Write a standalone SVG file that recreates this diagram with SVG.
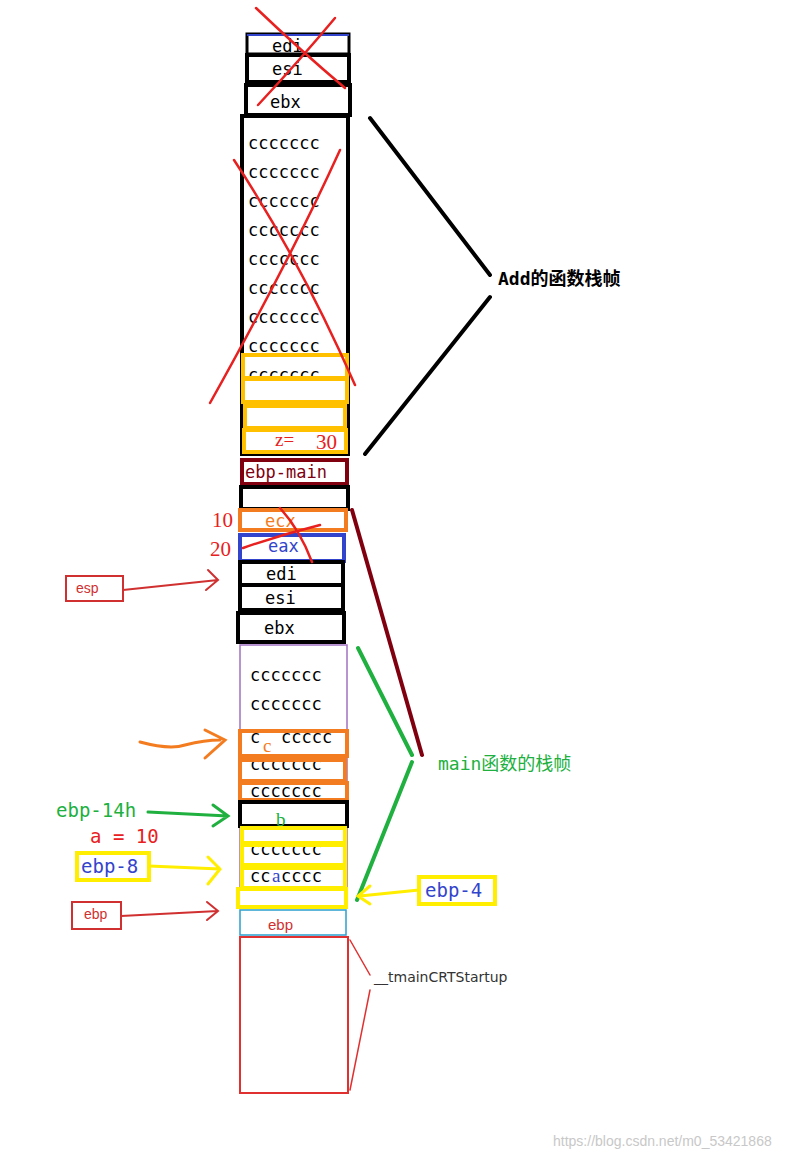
<svg xmlns="http://www.w3.org/2000/svg" width="807" height="1160" viewBox="0 0 807 1160">
<style>
.b{fill:#fff;stroke:#000;stroke-width:4}
.t{font-family:"DejaVu Sans Mono","Liberation Mono",monospace;font-size:17px}
.c{font-family:"Liberation Serif",serif;font-size:19px}
.o{fill:none;stroke:#ffc000;stroke-width:4}
.or{fill:none;stroke:#f47c20;stroke-width:4}
.y{fill:none;stroke:#ffee00;stroke-width:4}
.x{fill:none;stroke:#e82020;stroke-width:2.5;stroke-linecap:round}
</style>
<rect width="807" height="1160" fill="#fff"/>
<g id="add-frame">
<rect x="247" y="34" width="102" height="20" fill="#fff" stroke="#000" stroke-width="3"/>
<line x1="247" y1="35" x2="349" y2="35" stroke="#3344cc" stroke-width="2"/>
<text class="t" x="272" y="52">edi</text>
<rect class="b" x="247" y="55" width="102" height="27"/><text class="t" x="272" y="75">esi</text>
<rect class="b" x="246" y="85" width="104" height="30"/><text class="t" x="270" y="108">ebx</text>
<rect class="b" x="242" y="116" width="106" height="338"/>
<g class="t">
<text x="248" y="149">ccccccc</text><text x="248" y="178">ccccccc</text><text x="248" y="207">ccccccc</text>
<text x="248" y="236">ccccccc</text><text x="248" y="265">ccccccc</text><text x="248" y="294">ccccccc</text>
<text x="248" y="323">ccccccc</text><text x="248" y="352">ccccccc</text><text x="248" y="381">ccccccc</text>
</g>
<rect x="243" y="380" width="104" height="70" fill="#fff"/>
<rect class="o" x="243" y="355" width="104" height="23"/>
<rect class="o" x="243" y="379" width="104" height="23"/>
<rect class="o" x="245" y="406" width="100" height="22"/>
<rect class="o" x="244" y="430" width="102" height="22"/>
<text class="c" x="275" y="446" style="fill:#e82020">z=</text><text class="c" x="316" y="449" style="fill:#e82020;font-size:21px">30</text>
<rect x="242" y="460" width="105" height="24" fill="#fff" stroke="#800010" stroke-width="4"/>
<text class="t" x="245" y="478" style="fill:#800010">ebp-main</text>
<rect class="b" x="241" y="487" width="107" height="22"/>
<rect x="240" y="510" width="106" height="20" fill="#fff" stroke="#f47c20" stroke-width="4"/>
<text class="t" x="265" y="527" style="fill:#f47c20">ecx</text>
<rect x="240" y="535" width="104" height="26" fill="#fff" stroke="#3344cc" stroke-width="4"/>
<text class="t" x="268" y="552" style="fill:#3344cc">eax</text>
<text class="c" x="212" y="527" style="fill:#e82020;font-size:21px">10</text>
<text class="c" x="210" y="556" style="fill:#e82020;font-size:21px">20</text>
</g>
<g id="main-frame">
<rect class="b" x="240" y="562" width="103" height="23"/><text class="t" x="266" y="580">edi</text>
<rect class="b" x="240" y="585" width="103" height="25"/><text class="t" x="265" y="604">esi</text>
<rect class="b" x="238" y="613" width="106" height="29"/><text class="t" x="264" y="634">ebx</text>
<rect x="240" y="645" width="107" height="260" fill="#fff" stroke="#a070c0" stroke-width="1.5"/>
<g class="t">
<text x="250" y="681">ccccccc</text><text x="250" y="710">ccccccc</text><text x="250" y="743">c</text><text x="281" y="743">ccccc</text>
<text x="250" y="770">ccccccc</text><text x="250" y="797">ccccccc</text><text x="250" y="827">cc</text><text x="291" y="827">ccc</text>
<text x="250" y="855">ccccccc</text><text x="250" y="882">cc</text><text x="281" y="882">cccc</text>
</g>
<rect class="or" x="240" y="731" width="107" height="25"/>
<text class="c" x="263" y="752" style="fill:#f47c20">c</text>
<rect class="or" x="240" y="760" width="105" height="21"/>
<rect class="or" x="240" y="783" width="107" height="17"/>
<rect class="b" x="240" y="802" width="107" height="24"/>
<text class="c" x="276" y="826" style="fill:#20b040">b</text>
<rect x="242" y="828" width="103" height="15" fill="#fff" stroke="#ffee00" stroke-width="4"/>
<rect class="y" x="242" y="845" width="103" height="20"/>
<rect class="y" x="242" y="868" width="103" height="20"/>
<text class="c" x="272" y="882" style="fill:#3344cc">a</text>
<rect x="238" y="889" width="108" height="18" fill="#fff" stroke="#ffee00" stroke-width="4"/>
<rect x="240" y="910" width="106" height="25" fill="#fff" stroke="#2aa0d0" stroke-width="1.5"/>
<text x="268" y="930" font-family="Liberation Sans,sans-serif" font-size="15" fill="#d03030">ebp</text>
<rect x="240" y="937" width="108" height="156" fill="#fff" stroke="#e03030" stroke-width="2"/>
</g>
<g id="labels">
<text x="498" y="285" font-family="DejaVu Sans Mono,Noto Sans CJK SC,monospace" font-size="18" font-weight="bold">Add的函数栈帧</text>
<text x="438" y="770" font-family="DejaVu Sans Mono,Noto Sans CJK SC,monospace" font-size="18" fill="#20b040">main函数的栈帧</text>
<text x="374" y="982" font-family="DejaVu Sans,sans-serif" font-size="14" fill="#333">__tmainCRTStartup</text>
<rect x="66" y="576" width="57" height="25" fill="#fff" stroke="#d03030" stroke-width="2"/>
<text x="76" y="593" font-family="Liberation Sans,sans-serif" font-size="14" fill="#d03030">esp</text>
<rect x="72" y="902" width="49" height="27" fill="#fff" stroke="#d03030" stroke-width="2"/>
<text x="84" y="919" font-family="Liberation Sans,sans-serif" font-size="14" fill="#d03030">ebp</text>
<text class="t" x="56" y="817" style="fill:#20b040;font-size:19px">ebp-14h</text>
<text class="t" x="90" y="843" style="fill:#e82020;font-size:19px">a = 10</text>
<rect x="77" y="853" width="72" height="27" fill="#fff" stroke="#ffee00" stroke-width="4"/>
<text class="t" x="81" y="873" style="fill:#3344cc;font-size:19px">ebp-8</text>
<rect x="419" y="877" width="76" height="27" fill="#fff" stroke="#ffee00" stroke-width="4"/>
<text class="t" x="425" y="897" style="fill:#3344cc;font-size:19px">ebp-4</text>
</g>
<g id="connectors" fill="none" stroke-linecap="round">
<path d="M370 118 L490 275 M490 297 L365 454" stroke="#000" stroke-width="4"/>
<path d="M352 510 L422 755" stroke="#800010" stroke-width="4"/>
<path d="M358 648 L412 755 M412 762 L357 900" stroke="#20b040" stroke-width="4"/>
<path d="M350 940 L370 975 M370 990 L350 1090" stroke="#e03030" stroke-width="1.5"/>
<path d="M123 590 L218 580 M208 570 L218 580 L206 590" stroke="#d03030" stroke-width="2"/>
<path d="M121 916 L218 911 M207 902 L218 911 L207 920" stroke="#d03030" stroke-width="2"/>
<path d="M140 742 Q170 750 185 745 Q205 740 220 740 M205 730 L225 740 L205 758" stroke="#f47c20" stroke-width="3"/>
<path d="M148 812 L228 816 M213 805 L228 816 L213 826" stroke="#20b040" stroke-width="3"/>
<path d="M149 866 L220 869 M208 857 L220 869 L208 884" stroke="#ffee00" stroke-width="3"/>
<path d="M419 890 L360 896 M370 886 L358 896 L370 904" stroke="#ffee00" stroke-width="3"/>
</g>
<g id="crosses">
<path class="x" d="M256 8 Q300 50 345 88 M335 18 Q300 60 258 105"/>
<path class="x" d="M234 160 Q300 260 355 385 M340 150 Q290 260 210 403"/>
<path class="x" d="M280 508 Q300 530 312 562 M243 548 Q280 535 320 525"/>
</g>
<text x="553" y="1146" font-family="Liberation Sans,sans-serif" font-size="14" fill="#c8c8c8">https://blog.csdn.net/m0_53421868</text>
</svg>
